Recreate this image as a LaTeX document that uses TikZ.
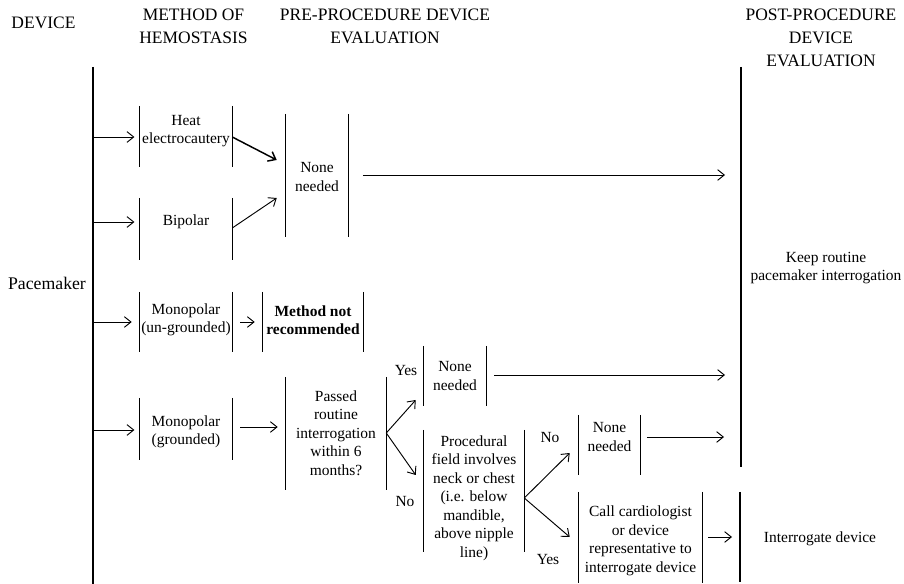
\documentclass[tikz,border=0pt]{standalone}
\usepackage{fontspec}
\setmainfont{Liberation Serif}
\usetikzlibrary{arrows.meta,calc}

\begin{document}
\begin{tikzpicture}[x=0.75pt, y=-0.75pt,
    hdr/.style={align=center, inner sep=0pt, font=\fontsize{13.1}{17.3}\selectfont},
    txt/.style={align=center, inner sep=0pt, font=\fontsize{11.6}{13.9}\selectfont},
    bar/.style={draw, line width=0.8pt},
    spine/.style={line width=0.9pt},
    bars/.style 2 args={append after command={
        ($(\tikzlastnode.west)+(0,#1)$) edge[bar] ($(\tikzlastnode.west)+(0,#2)$)
        ($(\tikzlastnode.east)+(0,#1)$) edge[bar] ($(\tikzlastnode.east)+(0,#2)$)}},
    arr/.style={-{Straight Barb[length=5pt, width=8pt]}, line width=0.7pt}
]
    \useasboundingbox (0,0) rectangle (904,584);

    % column headers
    \node[hdr] (hdevice) at (43.5,22.5) {DEVICE};
    \node[hdr] (hmethod) at (193.5,26) {METHOD OF\\HEMOSTASIS};
    \node[hdr] (hpre) at (385,26) {PRE-PROCEDURE DEVICE\\EVALUATION};
    \node[hdr] (hpost) at (821,38) {POST-PROCEDURE\\DEVICE\\EVALUATION};

    % device and post-procedure lines
    \coordinate (dtop) at (93,67);
    \coordinate (dbot) at (93,584);
    \coordinate (ptop) at (741,67);
    \coordinate (pbot) at (741,467);
    \draw[spine] (dtop) -- (dbot);
    \draw[spine] (ptop) -- (pbot);
    \node[font=\fontsize{13.3}{16}\selectfont, inner sep=0pt] (pace) at (47,283) {Pacemaker};
    \node[txt] (keep) at (826,268) {Keep routine\\pacemaker interrogation};

    % method of hemostasis
    \node[txt, minimum width=69pt, bars={-25}{36}] (heat) at (186,131) {Heat\\electrocautery};
    \node[txt, minimum width=69pt, bars={-24}{38}] (bip) at (186,222) {Bipolar};
    \node[txt, minimum width=69pt, bars={-28}{32}] (mono1) at (186,320) {Monopolar\\(un-grounded)};
    \node[txt, minimum width=69pt, bars={-34}{28}] (mono2) at (186,432) {Monopolar\\(grounded)};

    % pre-procedure evaluation
    \node[txt, minimum width=46.5pt, bars={-63}{60}] (none1) at (317,177) {None\\needed};
    \node[txt, minimum width=75pt, bars={-28}{32}, font=\fontsize{11.6}{13.9}\selectfont\bfseries] (notrec) at (313,320) {Method not\\recommended};
    \node[txt, minimum width=75pt, bars={-56}{57}] (passed) at (336,433) {Passed\\routine\\interrogation\\within 6\\months?};
    \node[txt, minimum width=46.5pt, bars={-30}{30}] (none2) at (455,376) {None\\needed};
    \node[txt, minimum width=75pt, bars={-68}{54}] (proc) at (474,498) {Procedural\\field involves\\neck or chest\\(i.e. below\\mandible,\\above nipple\\line)};
    \node[txt, minimum width=45.75pt, bars={-22}{38}] (none3) at (609.5,437) {None\\needed};
    \node[txt, minimum width=92.25pt, bars={-49}{42}] (call) at (640.5,541) {Call cardiologist\\or device\\representative to\\interrogate device};
    \node[txt] (intdev) at (820,539) {Interrogate device};
    \coordinate (itop) at (740,492);
    \coordinate (ibot) at (740,582);
    \draw[bar] (itop) -- (ibot);

    \node[txt] (yes1) at (406,371) {Yes};
    \node[txt] (no1) at (405,502) {No};
    \node[txt] (no2) at (550,438) {No};
    \node[txt] (yes2) at (548,560) {Yes};

    % arrows
    \coordinate (d1) at (93,137);
    \coordinate (d2) at (93,222);
    \coordinate (d3) at (93,322);
    \coordinate (d4) at (93,430);
    \coordinate (p1) at (741,175);
    \coordinate (p2) at (741,375);
    \coordinate (p3) at (741,437);
    \coordinate (ib) at (740,537);

    \draw[arr, shorten >=4pt] (d1) -- (d1 -| heat.west);
    \draw[arr, shorten >=4pt] (d2) -- (d2 -| bip.west);
    \draw[arr, shorten >=6pt] (d3) -- (d3 -| mono1.west);
    \draw[arr, shorten >=4pt] (d4) -- (d4 -| mono2.west);

    \draw[arr, line width=1.1pt] ($(heat.east)+(0,6)$) -- ($(none1.west)+(-9,-17)$);
    \draw[arr] ($(bip.east)+(0,6)$) -- ($(none1.west)+(-9,21)$);
    \draw[arr, shorten <=11pt, shorten >=12pt] (none1.east |- p1) -- (p1);

    \draw[arr, shorten <=6pt, shorten >=6pt] ($(mono1.east)+(0,2)$) -- ($(notrec.west)+(0,2)$);
    \draw[arr, shorten <=6pt, shorten >=6pt] ($(mono2.east)+(0,-5)$) -- ($(passed.west)+(0,-6)$);

    \draw[arr] (passed.east) -- ($(none2.west)+(-8,24)$);
    \draw[arr] (passed.east) -- ($(proc.west)+(-8,-23)$);
    \draw[arr, shorten <=6pt, shorten >=12pt] (none2.east |- p2) -- (p2);

    \draw[arr] (proc.east) -- ($(none3.west)+(-9,16)$);
    \draw[arr] (proc.east) -- ($(call.west)+(-9,-4)$);
    \draw[arr, shorten <=5pt, shorten >=12.75pt] (none3.east |- p3) -- (p3);
    \draw[arr, shorten <=4.5pt, shorten >=6pt] (call.east |- ib) -- (ib);
\end{tikzpicture}
\end{document}
